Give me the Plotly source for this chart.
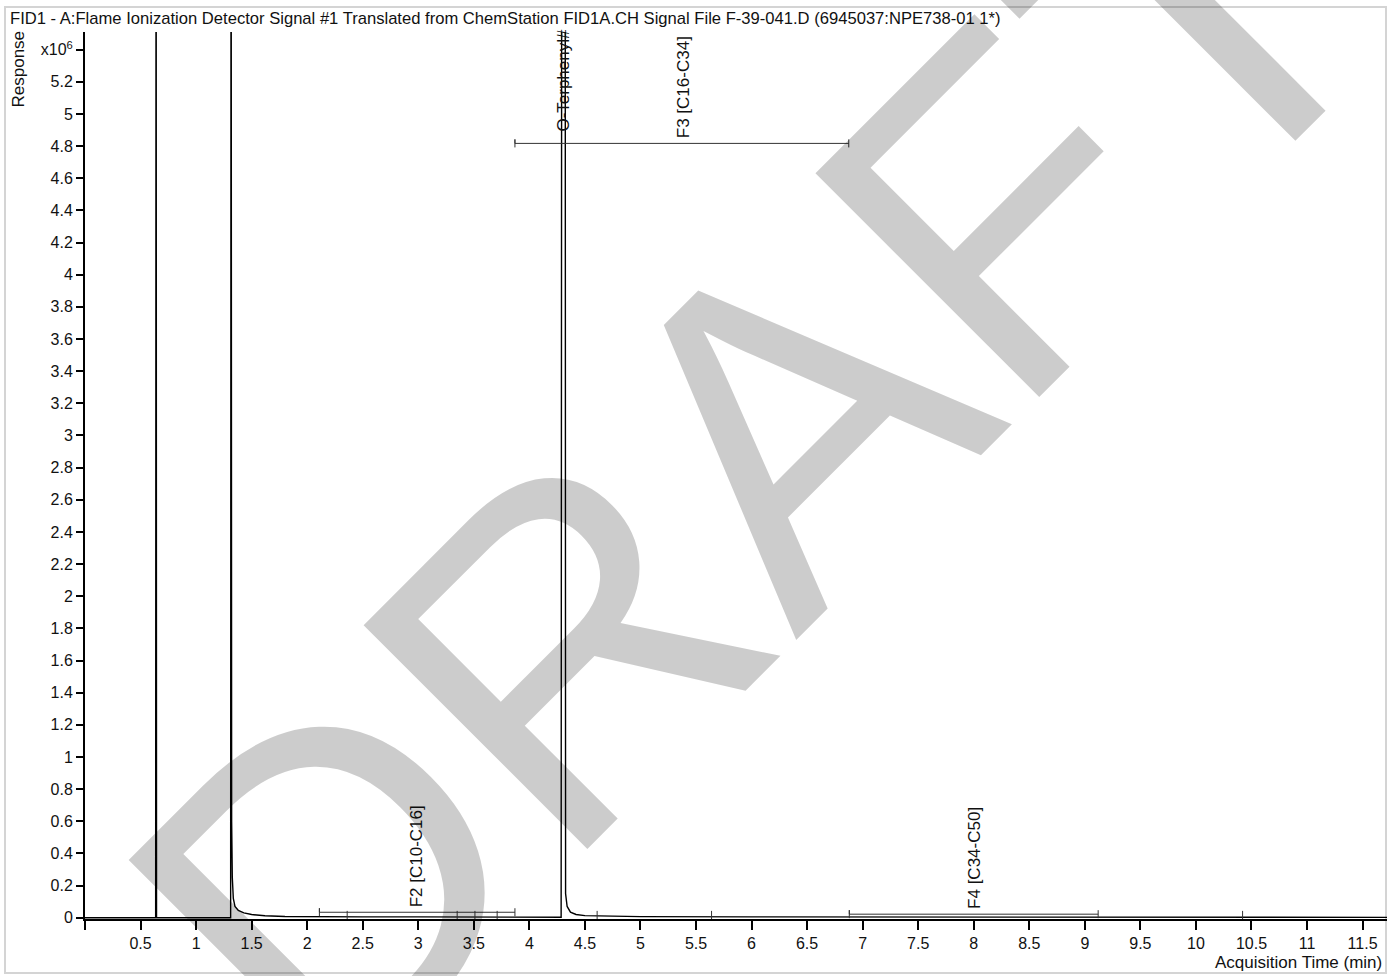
import plotly.graph_objects as go

# chromatogram trace (response in units of 10^6)
signal_time = [0.0, 0.636, 0.640, 0.644, 1.311, 1.315, 1.320, 1.326, 1.335, 1.35, 1.38, 1.43,
               1.50, 1.62, 1.80, 2.05, 2.5, 3.0, 3.5, 4.0, 4.286, 4.292, 4.322, 4.326, 4.34,
               4.37, 4.42, 4.5, 4.7, 5.0, 6.0, 7.0, 8.0, 9.0, 10.0, 11.72]
signal_resp = [0.0, 0.0, 7.5, 0.0, 0.0, 7.5, 0.6, 0.25, 0.12, 0.07, 0.045, 0.03,
               0.02, 0.012, 0.008, 0.006, 0.005, 0.005, 0.004, 0.003, 0.003, 7.5, 7.5, 0.15, 0.07,
               0.035, 0.02, 0.013, 0.009, 0.007, 0.005, 0.004, 0.003, 0.003, 0.002, 0.002]

# integration range brackets
bracket_names = ["F2 [C10-C16]", "F3 [C16-C34]", "F4 [C34-C50]"]
bracket_start = [2.11, 3.87, 6.88]
bracket_end = [3.87, 6.875, 9.12]
bracket_level = [0.034, 4.817, 0.022]
bracket_label_time = [2.98, 5.39, 8.0]

# compound label
compound_names = ["O-Terphenyl#"]
compound_time = [4.31]
compound_label_y = [4.88]

# small peak markers on the baseline
mark_time = [2.36, 3.35, 3.51, 3.71, 4.61, 5.64, 10.42]
mark_resp = [0.012, 0.012, 0.012, 0.012, 0.012, 0.012, 0.012]

x_ticks = [i * 0.5 for i in range(24)]
x_ticktext = [""] + ["%g" % v for v in x_ticks[1:]]
y_ticks = [i * 0.2 for i in range(28)]
y_ticktext = ["%g" % round(v, 1) for v in y_ticks[:-1]] + ["x10<sup>6</sup>"]

FONT = "Liberation Sans, Arial, sans-serif"
W, H = 1388, 976
L, R, T, B = 85, 1, 32, 57
pw, ph = W - L - R, H - T - B

fig = go.Figure()
fig.add_trace(go.Scatter(x=signal_time, y=signal_resp, mode="lines",
                         line=dict(color="black", width=1.4), hoverinfo="skip"))

cap = 0.025
for s, e, lv in zip(bracket_start, bracket_end, bracket_level):
    fig.add_trace(go.Scatter(x=[s, s, s, None, s, e, None, e, e],
                             y=[lv - cap, lv + cap, lv, None, lv, lv, None, lv - cap, lv + cap],
                             mode="lines", line=dict(color="#333333", width=1),
                             hoverinfo="skip"))

fig.add_trace(go.Scatter(x=mark_time, y=mark_resp, mode="markers",
                         marker=dict(symbol="line-ns-open", size=7, color="#333333",
                                     line=dict(color="#333333", width=1)),
                         hoverinfo="skip"))

ann = []
for name, t, lv in zip(bracket_names, bracket_label_time, bracket_level):
    ann.append(dict(x=t, y=lv, xref="x", yref="y", text=name, textangle=-90,
                    showarrow=False, xanchor="center", yanchor="bottom", yshift=3,
                    font=dict(family=FONT, size=17, color="#111111")))
for name, t, yv in zip(compound_names, compound_time, compound_label_y):
    ann.append(dict(x=t, y=yv, xref="x", yref="y", text=name, textangle=-90,
                    showarrow=False, xanchor="center", yanchor="bottom",
                    font=dict(family=FONT, size=17, color="#111111")))

# title, axis titles
ann.append(dict(x=(8 - L) / pw, y=(H - B - 18) / ph, xref="paper", yref="paper",
                text="FID1 - A:Flame Ionization Detector Signal #1 Translated from ChemStation "
                     "FID1A.CH Signal File F-39-041.D (6945037:NPE738-01 1*)",
                showarrow=False, xanchor="left", yanchor="middle",
                font=dict(family=FONT, size=16.6, color="#111111")))
ann.append(dict(x=(18 - L) / pw, y=(H - B - 29) / ph, xref="paper", yref="paper",
                text="Response", textangle=-90, showarrow=False,
                xanchor="center", yanchor="top",
                font=dict(family=FONT, size=17, color="#111111")))
ann.append(dict(x=(1384 - L) / pw, y=(H - B - 963) / ph, xref="paper", yref="paper",
                text="Acquisition Time (min)", showarrow=False,
                xanchor="right", yanchor="middle",
                font=dict(family=FONT, size=17, color="#111111")))

# watermark
ann.append(dict(x=(755 - L) / pw, y=(H - B - 455) / ph, xref="paper", yref="paper",
                text="DRAFT", textangle=-45, showarrow=False,
                xanchor="center", yanchor="middle",
                font=dict(family=FONT, size=460, color="rgba(0,0,0,0.2)")))

fig.update_layout(
    width=W, height=H,
    margin=dict(l=L, r=R, t=T, b=B),
    paper_bgcolor="white", plot_bgcolor="white",
    showlegend=False,
    font=dict(family=FONT, size=16, color="#111111"),
    annotations=ann,
    shapes=[dict(type="rect", xref="paper", yref="paper",
                 x0=(5 - L) / pw, x1=(1386 - L) / pw,
                 y0=(H - B - 973) / ph, y1=(H - B - 7) / ph,
                 line=dict(color="#d4d4d4", width=2), layer="below")],
)
fig.update_xaxes(range=[0, 11.72], tickvals=x_ticks, ticktext=x_ticktext,
                 ticks="outside", ticklen=9, tickwidth=1.5, tickcolor="black",
                 showline=True, linecolor="black", linewidth=2,
                 showgrid=False, zeroline=False)
fig.update_yaxes(range=[-0.008, 5.51], tickvals=y_ticks, ticktext=y_ticktext,
                 ticks="outside", ticklen=7, tickwidth=1.5, tickcolor="black",
                 showline=True, linecolor="black", linewidth=2,
                 showgrid=False, zeroline=False)

fig.write_html("out.html", config={"displayModeBar": False},
               post_script="document.body.style.margin='0';")
